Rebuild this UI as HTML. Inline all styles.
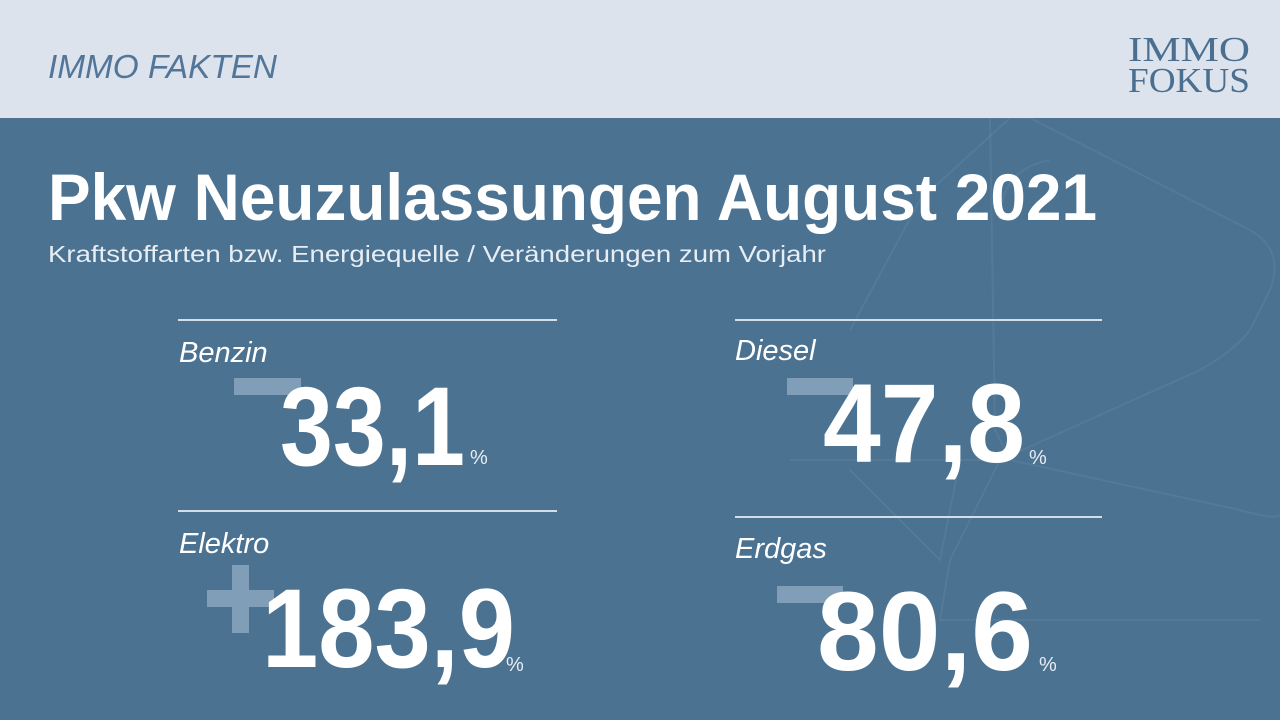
<!DOCTYPE html>
<html><head><meta charset="utf-8"><style>
html,body{margin:0;padding:0;width:1280px;height:720px;overflow:hidden;background:#4a7190}
svg{display:block}
</style></head><body>
<svg width="1280" height="720" viewBox="0 0 1280 720" xmlns="http://www.w3.org/2000/svg">
<rect x="0" y="0" width="1280" height="720" fill="#4b7291"/>
<g fill="none" stroke="#ffffff" stroke-opacity="0.06" stroke-width="2">
<path d="M960 118 L1030 118 L1250 230 Q1285 250 1270 290 L1250 330 Q1235 350 1200 370 L1000 460"/>
<path d="M990 118 L995 430 L1010 460 L1240 510 Q1275 520 1280 515"/>
<path d="M1010 118 L920 200 L850 330"/>
<path d="M790 460 L1000 460 L950 560 L940 620 L1260 620"/>
<path d="M960 460 L940 560 L850 470"/>
<path d="M1050 160 Q1000 170 1000 220"/>
</g>
<rect x="0" y="0" width="1280" height="118" fill="#dde3ec"/>
<text x="48" y="78" font-family="Liberation Sans, sans-serif" font-style="italic" font-size="33" fill="#52769a" textLength="229" lengthAdjust="spacingAndGlyphs">IMMO FAKTEN</text>
<text x="1128" y="61" font-family="Liberation Serif, serif" font-size="35" fill="#4a6f90" textLength="122" lengthAdjust="spacingAndGlyphs">IMMO</text>
<text x="1128" y="92" font-family="Liberation Serif, serif" font-size="35" fill="#4a6f90" textLength="122" lengthAdjust="spacingAndGlyphs">FOKUS</text>
<text x="48" y="220" font-family="Liberation Sans, sans-serif" font-weight="bold" font-size="66" fill="#ffffff" textLength="1049" lengthAdjust="spacingAndGlyphs">Pkw Neuzulassungen August 2021</text>
<text x="48" y="262" font-family="Liberation Sans, sans-serif" font-size="23" fill="#e6edf4" textLength="778" lengthAdjust="spacingAndGlyphs">Kraftstoffarten bzw. Energiequelle / Veränderungen zum Vorjahr</text>
<g stroke="#d3dee8" stroke-width="2">
<line x1="178" y1="320" x2="557" y2="320"/>
<line x1="735" y1="320" x2="1102" y2="320"/>
<line x1="178" y1="511" x2="557" y2="511"/>
<line x1="735" y1="517" x2="1102" y2="517"/>
</g>
<g font-family="Liberation Sans, sans-serif" font-style="italic" font-size="29" fill="#ffffff">
<text x="179" y="362">Benzin</text>
<text x="735" y="360">Diesel</text>
<text x="179" y="553">Elektro</text>
<text x="735" y="558">Erdgas</text>
</g>
<g fill="#819eb8">
<rect x="234" y="378" width="67" height="17"/>
<rect x="787" y="378" width="66" height="17"/>
<rect x="207" y="590" width="67" height="17"/>
<rect x="232" y="565" width="17" height="68"/>
<rect x="777" y="586" width="66" height="17"/>
</g>
<g font-family="Liberation Sans, sans-serif" font-weight="bold" font-size="112" fill="#ffffff">
<text x="280" y="465" textLength="185" lengthAdjust="spacingAndGlyphs">33,1</text>
<text x="823" y="462" textLength="202" lengthAdjust="spacingAndGlyphs">47,8</text>
<text x="262" y="667" textLength="253" lengthAdjust="spacingAndGlyphs">183,9</text>
<text x="817" y="670" textLength="216" lengthAdjust="spacingAndGlyphs">80,6</text>
</g>
<g font-family="Liberation Sans, sans-serif" font-size="20" fill="#e6edf4">
<text x="470" y="464">%</text>
<text x="1029" y="464">%</text>
<text x="506" y="671">%</text>
<text x="1039" y="671">%</text>
</g>
</svg>
</body></html>
